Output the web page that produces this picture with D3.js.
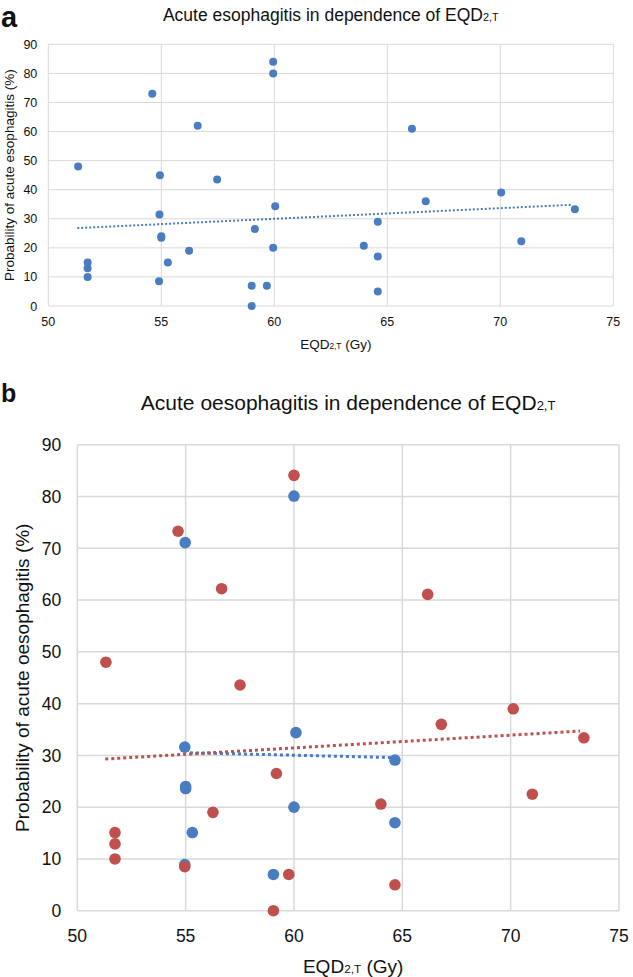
<!DOCTYPE html>
<html>
<head>
<meta charset="utf-8">
<script src="https://cdn.jsdelivr.net/npm/d3@7"></script>
<style>
  body { margin: 0; background: #fff; }
  text { font-family: "Liberation Sans", Arial, Helvetica, sans-serif; fill: #111; }
</style>
</head>
<body>
<svg id="chart" width="633" height="977"></svg>
<script>
// panel a: all patients
var aX = [51.32, 51.74, 51.74, 51.74, 54.6, 54.94, 54.92, 55.0, 55.0, 54.9, 55.29, 56.23, 56.61, 57.47,
          59.95, 59.95, 60.04, 59.14, 59.95, 59.0, 59.67, 59.0, 66.09, 66.7, 70.04, 73.3, 70.93, 64.58, 63.96, 64.58, 64.58];
var aY = [48, 15, 13, 10, 73, 45, 31.5, 24, 23.5, 8.5, 15, 19, 62, 43.5,
          84, 80, 34.3, 26.5, 20, 7, 7, 0, 61, 36, 39, 33.3, 22.3, 29, 20.7, 17, 5];
// trendline ends
var aTrendX = [51.28, 73.15];
var aTrendY = [26.8, 34.8];

// panel b: red series
var rX = [51.32, 54.65, 56.66, 60.0, 57.51, 59.19, 56.26, 51.74, 51.74, 51.74, 54.96, 59.76, 59.05,
          70.12, 66.8, 73.38, 71.0, 64.01, 64.66, 66.17];
var rY = [48, 73.3, 62.2, 84.1, 43.6, 26.5, 19, 15.1, 12.9, 10, 8.5, 7, 0,
          39, 36, 33.4, 22.5, 20.6, 5, 61.1];
var rTrendX = [51.29, 73.2];
var rTrendY = [29.3, 34.7];
// panel b: blue series
var bX = [54.98, 60.0, 60.09, 54.96, 55.0, 55.0, 60.0, 55.31, 54.96, 59.05, 64.66, 64.66];
var bY = [71.1, 80.1, 34.4, 31.6, 24.0, 23.6, 20.0, 15.1, 8.9, 7.0, 29.1, 17.0];
var bTrendX = [55.2, 64.46];
var bTrendY = [30.5, 29.6];

var xTicks = [50, 55, 60, 65, 70, 75];
var yTicks = [0, 10, 20, 30, 40, 50, 60, 70, 80, 90];

var blue = "#4a7dbf", red = "#c0504d", grid = "#d9d9d9";

var svg = d3.select("#chart");

function panel(o) {
    var g = svg.append("g");

    var x = d3.scaleLinear().domain([50, 75]).range([o.left, o.right]);
    var y = d3.scaleLinear().domain([0, 90]).range([o.bottom, o.top]);

    g.selectAll(".vgrid")
        .data(xTicks)
        .enter().append("line")
        .attr("x1", function(d) { return x(d); })
        .attr("x2", function(d) { return x(d); })
        .attr("y1", o.top)
        .attr("y2", o.bottom)
        .style("stroke", grid)
        .style("stroke-width", o.gw);

    g.selectAll(".hgrid")
        .data(yTicks)
        .enter().append("line")
        .attr("x1", o.left)
        .attr("x2", o.right)
        .attr("y1", function(d) { return y(d); })
        .attr("y2", function(d) { return y(d); })
        .style("stroke", grid)
        .style("stroke-width", o.gw);

    g.selectAll(".xlab")
        .data(xTicks)
        .enter().append("text")
        .attr("x", function(d) { return x(d); })
        .attr("y", o.bottom + o.xlabDy)
        .attr("text-anchor", "middle")
        .style("font-size", o.tickFs + "px")
        .text(function(d) { return d; });

    g.selectAll(".ylab")
        .data(yTicks)
        .enter().append("text")
        .attr("x", o.left - o.ylabDx)
        .attr("y", function(d) { return y(d); })
        .attr("dy", ".36em")
        .attr("text-anchor", "end")
        .style("font-size", o.tickFs + "px")
        .text(function(d) { return d; });

    // series
    o.series.forEach(function(s) {
        g.append("g").selectAll("circle")
            .data(s.xs)
            .enter().append("circle")
            .attr("cx", function(d) { return x(d); })
            .attr("cy", function(d, i) { return y(s.ys[i]); })
            .attr("r", o.r)
            .style("fill", s.color);
    });

    // linear trendlines
    var line = d3.line()
        .x(function(d) { return x(d[0]); })
        .y(function(d) { return y(d[1]); });
    o.series.forEach(function(s) {
        g.append("path")
            .attr("d", line(d3.zip(s.tx, s.ty)))
            .style("fill", "none")
            .style("stroke", s.color)
            .style("stroke-width", o.tw)
            .style("stroke-dasharray", o.dash);
    });

    // title
    var t = g.append("text")
        .attr("x", (o.left + o.right) / 2)
        .attr("y", o.titleY)
        .attr("text-anchor", "middle")
        .style("font-size", o.titleFs + "px");
    t.append("tspan").text(o.title);
    t.append("tspan").style("font-size", "62%").text("2,T");

    g.append("text")
        .attr("x", 1)
        .attr("y", o.letterY)
        .style("font-size", o.letterFs + "px")
        .style("font-weight", "bold")
        .text(o.letter);

    var xt = g.append("text")
        .attr("x", (o.left + o.right) / 2 + 5)
        .attr("y", o.xtitleY)
        .attr("text-anchor", "middle")
        .style("font-size", o.axisFs + "px");
    xt.append("tspan").text("EQD");
    xt.append("tspan").style("font-size", "62%").text("2,T");
    xt.append("tspan").text(" (Gy)");

    g.append("text")
        .attr("transform", "translate(" + o.ytitleX + "," + (o.top + o.bottom) / 2 + ") rotate(-90)")
        .attr("text-anchor", "middle")
        .style("font-size", o.axisFs + "px")
        .text(o.ytitle);
}

panel({
    left: 48.3, right: 613.3, top: 44.3, bottom: 306,
    gw: 1, r: 4, tw: 2, dash: "2,2",
    tickFs: 12.5, xlabDy: 20, ylabDx: 11,
    title: "Acute esophagitis in dependence of EQD", titleFs: 17.5, titleY: 21,
    letter: "a", letterFs: 29, letterY: 27,
    axisFs: 13.5, xtitleY: 349, ytitleX: 14,
    ytitle: "Probability of acute esophagitis (%)",
    series: [{xs: aX, ys: aY, tx: aTrendX, ty: aTrendY, color: blue}]
});

panel({
    left: 77.3, right: 619, top: 444.8, bottom: 910.7,
    gw: 1.5, r: 5.8, tw: 3, dash: "3,3",
    tickFs: 17.5, xlabDy: 31, ylabDx: 16,
    title: "Acute oesophagitis in dependence of EQD", titleFs: 21, titleY: 410,
    letter: "b", letterFs: 25, letterY: 402,
    axisFs: 19, xtitleY: 973, ytitleX: 29,
    ytitle: "Probability of acute oesophagitis (%)",
    series: [{xs: bX, ys: bY, tx: bTrendX, ty: bTrendY, color: blue},
             {xs: rX, ys: rY, tx: rTrendX, ty: rTrendY, color: red}]
});
</script>
</body>
</html>
